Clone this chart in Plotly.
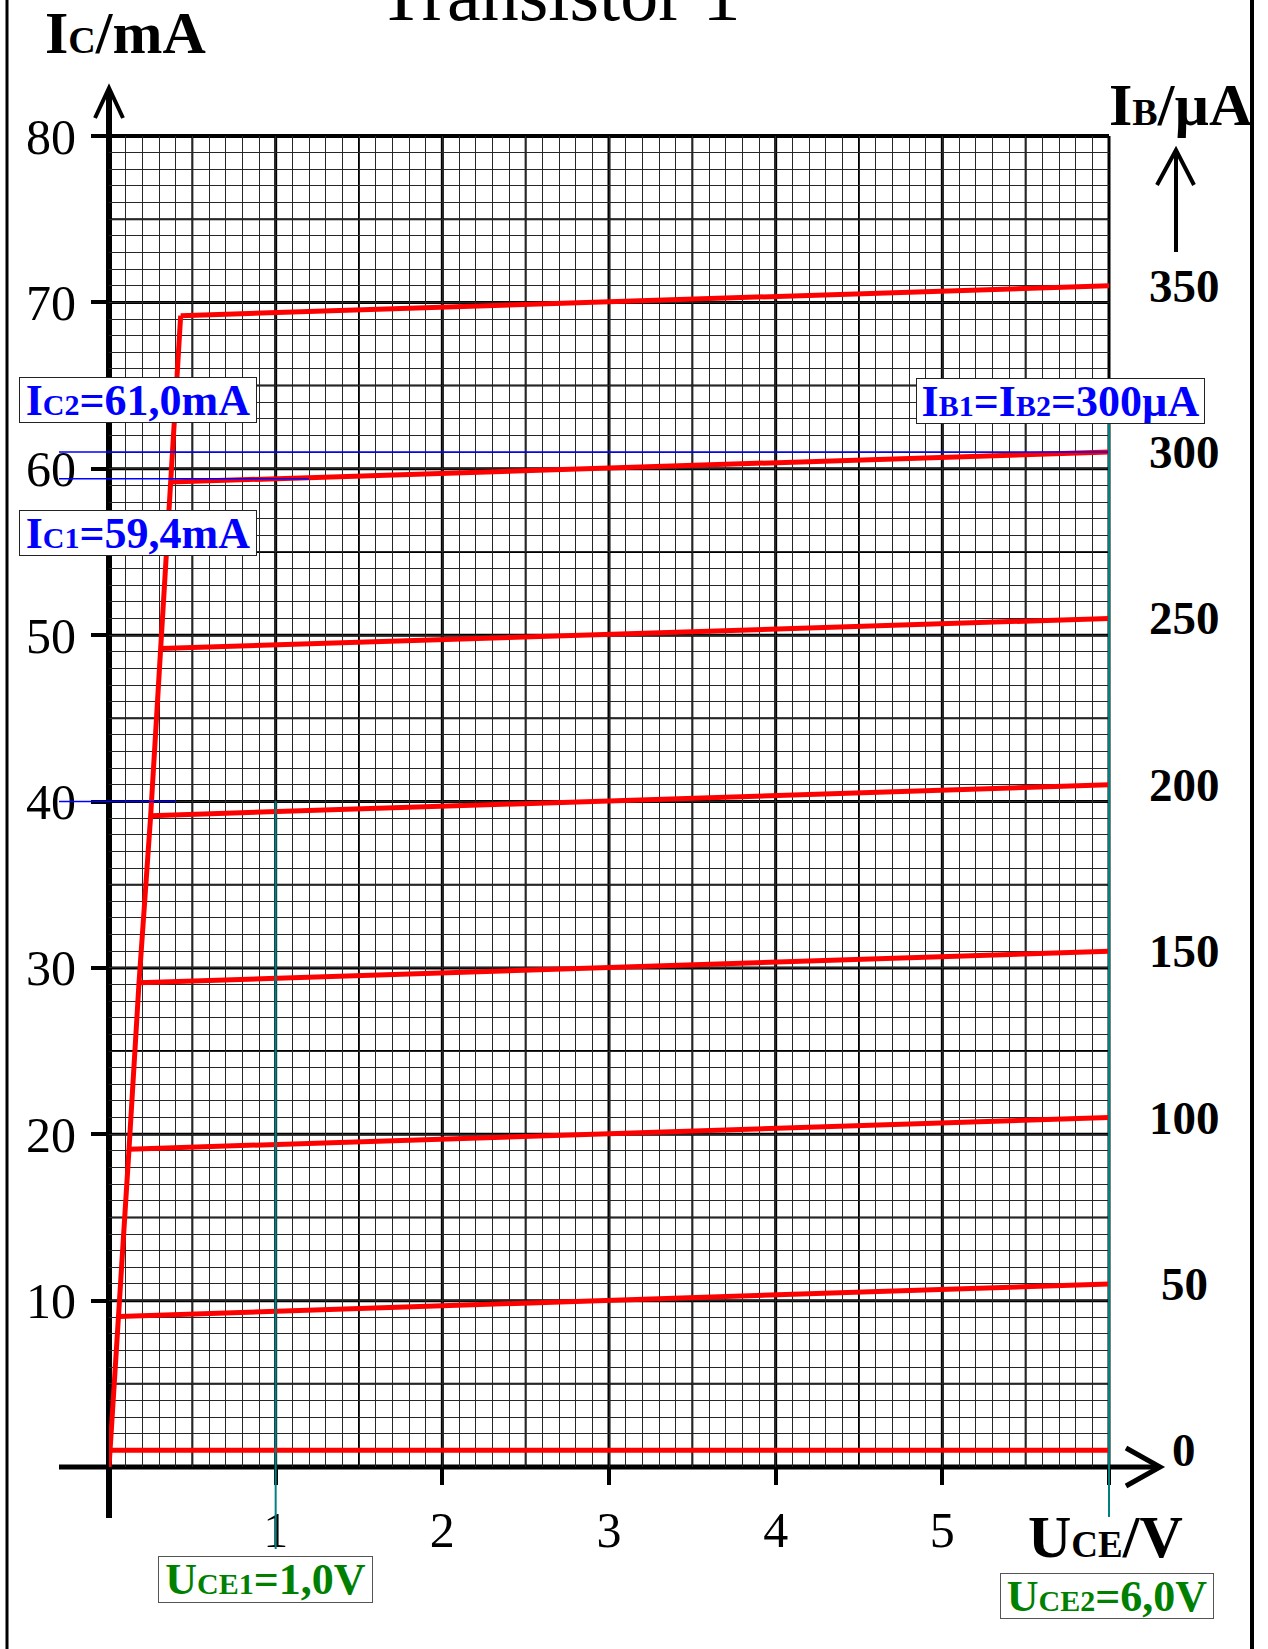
import numpy as np
import plotly.graph_objects as go

# ---------------- data ----------------
IB_VALUES = [0, 50, 100, 150, 200, 250, 300, 350]            # base current, µA
KNEE_UCE = [0.0, 0.06, 0.12, 0.18, 0.25, 0.31, 0.37, 0.43]   # V, end of saturation
KNEE_IC = [1.0, 9.05, 19.1, 29.1, 39.15, 49.2, 59.2, 69.2]   # mA at knee
END_UCE = [6.0, 6.0, 6.0, 6.0, 6.0, 6.0, 6.0, 6.0]           # V
END_IC = [1.0, 11.0, 21.0, 31.0, 41.0, 51.0, 61.0, 71.0]     # mA at 6 V

X_TICKS = [1, 2, 3, 4, 5, 6]
X_TICKTEXT = ["1", "2", "3", "4", "5", ""]
Y_TICKS = [10, 20, 30, 40, 50, 60, 70, 80]
Y_TICKTEXT = ["10", "20", "30", "40", "50", "60", "70", "80"]

UCE1, UCE2 = 1.0, 6.0
IC1, IC2 = 59.4, 61.0
IC_AUX, UCE_AUX = 40.0, 0.4
UCE_IC1_END = 1.2

X_RANGE = [0, 6]
Y_RANGE = [0, 80]

# ---------------- geometry / style ----------------
FIG_W, FIG_H = 1268, 1649
M_L, M_R, M_T, M_B = 109, 159, 136, 182
PW = FIG_W - M_L - M_R
PH = FIG_H - M_T - M_B
SERIF = "Liberation Serif, Times New Roman, serif"
RED = "#ff0000"
BLUE = "#0000ff"
GREEN = "#008000"
TEAL = "#008080"


def px(p):  # page pixel x -> paper
    return (p - M_L) / PW


def py(p):  # page pixel y -> paper
    return (FIG_H - M_B - p) / PH


def fx(v):
    return (v - X_RANGE[0]) / (X_RANGE[1] - X_RANGE[0])


def fy(v):
    return (v - Y_RANGE[0]) / (Y_RANGE[1] - Y_RANGE[0])


fig = go.Figure()

# steep (saturation) line through the knees
fig.add_trace(go.Scatter(
    x=[0.0] + KNEE_UCE[1:], y=[0.0] + KNEE_IC[1:], mode="lines",
    line=dict(color=RED, width=5), hoverinfo="skip"))
# output characteristics
for ib, xv0, yv0, xv1, yv1 in zip(IB_VALUES, KNEE_UCE, KNEE_IC, END_UCE, END_IC):
    fig.add_trace(go.Scatter(
        x=[xv0, xv1], y=[yv0, yv1], mode="lines", name=f"IB={ib}µA",
        line=dict(color=RED, width=5), hoverinfo="skip"))

shapes = []
# medium / major grid lines
for v in np.arange(0.5, X_RANGE[1] + 0.01, 0.5):
    w = 3 if abs(v - round(v)) < 1e-9 else 2
    shapes.append(dict(type="line", xref="paper", yref="paper", x0=fx(v), x1=fx(v),
                       y0=0, y1=1, line=dict(color="black", width=w), layer="below"))
for v in np.arange(5, Y_RANGE[1] + 0.01, 5):
    w = 3 if v % 10 == 0 else 2
    if v == Y_RANGE[1]:
        w = 4
    shapes.append(dict(type="line", xref="paper", yref="paper", x0=0, x1=1,
                       y0=fy(v), y1=fy(v), line=dict(color="black", width=w), layer="below"))

# axes lines with arrows
shapes.append(dict(type="line", xref="paper", yref="paper", x0=0, x1=0,
                   y0=py(1518), y1=py(90), line=dict(color="black", width=6), layer="below"))
shapes.append(dict(type="line", xref="paper", yref="paper", x0=px(59), x1=px(1158),
                   y0=0, y1=0, line=dict(color="black", width=5), layer="below"))
shapes.append(dict(type="path", xref="paper", yref="paper",
                   path=f"M {px(95)} {py(118)} L {px(109)} {py(88)} L {px(123)} {py(118)}",
                   line=dict(color="black", width=4), layer="below"))
shapes.append(dict(type="path", xref="paper", yref="paper",
                   path=f"M {px(1126)} {py(1448)} L {px(1160)} {py(1467)} L {px(1126)} {py(1486)}",
                   line=dict(color="black", width=5), layer="below"))
# right IB arrow
shapes.append(dict(type="line", xref="paper", yref="paper", x0=px(1176), x1=px(1176),
                   y0=py(252), y1=py(152), line=dict(color="black", width=4), layer="below"))
shapes.append(dict(type="path", xref="paper", yref="paper",
                   path=f"M {px(1157)} {py(185)} L {px(1176)} {py(150)} L {px(1194)} {py(185)}",
                   line=dict(color="black", width=4), layer="below"))
# frame lines
shapes.append(dict(type="line", xref="paper", yref="paper", x0=px(7), x1=px(7),
                   y0=py(-5), y1=py(FIG_H + 5), line=dict(color="black", width=3), layer="below"))
shapes.append(dict(type="line", xref="paper", yref="paper", x0=px(1252), x1=px(1252),
                   y0=py(-5), y1=py(FIG_H + 5), line=dict(color="black", width=4), layer="below"))

# blue reading lines
for ic, xend in [(IC2, fx(X_RANGE[1])), (IC1, fx(UCE_IC1_END)), (IC_AUX, fx(UCE_AUX))]:
    shapes.append(dict(type="line", xref="paper", yref="y", x0=px(59), x1=xend,
                       y0=ic, y1=ic, line=dict(color=BLUE, width=1.5), layer="above"))
# teal reading lines
shapes.append(dict(type="line", xref="paper", yref="paper", x0=fx(UCE1), x1=fx(UCE1),
                   y0=py(1549), y1=fy(IC_AUX), line=dict(color=TEAL, width=2), layer="above"))
shapes.append(dict(type="line", xref="paper", yref="paper", x0=fx(UCE2), x1=fx(UCE2),
                   y0=py(1517), y1=py(420), line=dict(color=TEAL, width=2), layer="above"))

annotations = []


def ann(text, xpix, ypix, size, color="black", bold=True, xanchor="center", **kw):
    annotations.append(dict(
        text=text, xref="paper", yref="paper", x=px(xpix), y=py(ypix),
        xanchor=xanchor, yanchor="middle", showarrow=False,
        font=dict(family=SERIF, size=size, color=color, weight="bold" if bold else "normal"),
        **kw))


def small(t, s):
    return f"<span style='font-size:{s}px'>{t}</span>"


ann("Transistor 1", 559, -6, 76, bold=False)
ann("I" + small("C", 38) + "/mA", 125, 33, 60)
ann("I" + small("B", 38) + "/µA", 1107, 105, 60, xanchor="left")
ann("U" + small("CE", 37) + "/V", 1105, 1537, 60)

# right IB scale labels at curve ends
for ib, yv in zip(IB_VALUES, END_IC):
    annotations.append(dict(
        text=str(ib), xref="paper", yref="y", x=px(1184), y=yv,
        xanchor="center", yanchor="middle", showarrow=False,
        font=dict(family=SERIF, size=47, color="black", weight="bold")))


def box(text, cx, cy, w, h, color, border):
    annotations.append(dict(
        text=text, xref="paper", yref="paper", x=px(cx), y=py(cy),
        xanchor="center", yanchor="middle", showarrow=False,
        width=w - 2, height=h - 2, align="center", valign="middle",
        bgcolor="white", bordercolor=border, borderwidth=1, borderpad=0,
        font=dict(family=SERIF, size=44, color=color, weight="bold")))


box("I" + small("C2", 30) + "=" + f"{IC2:.1f}".replace(".", ",") + "mA",
    138, 400, 238, 46, BLUE, "#222")
box("I" + small("C1", 30) + "=" + f"{IC1:.1f}".replace(".", ",") + "mA",
    138, 533, 238, 46, BLUE, "#222")
box("I" + small("B1", 30) + "=I" + small("B2", 30) + f"={IB_VALUES[6]}µA",
    1060, 401, 289, 46, BLUE, "#222")
annotations_green = [
    ("U" + small("CE1", 30) + "=" + f"{UCE1:.1f}".replace(".", ",") + "V", 265, 1579, 215, 47),
    ("U" + small("CE2", 30) + "=" + f"{UCE2:.1f}".replace(".", ",") + "V", 1107, 1596, 214, 46),
]
for t, cx, cy, w, h in annotations_green:
    box(t, cx, cy, w, h, GREEN, "#555")

fig.update_layout(
    width=FIG_W, height=FIG_H,
    margin=dict(l=M_L, r=M_R, t=M_T, b=M_B, pad=0),
    paper_bgcolor="white", plot_bgcolor="white",
    showlegend=False,
    shapes=shapes, annotations=annotations,
    xaxis=dict(range=X_RANGE, tickmode="array", tickvals=X_TICKS, ticktext=X_TICKTEXT,
               ticks="outside", ticklen=17, tickwidth=4, tickcolor="black",
               ticklabelstandoff=2,
               tickfont=dict(family=SERIF, size=50, color="black"),
               showgrid=False, zeroline=False, showline=False, fixedrange=True,
               minor=dict(tick0=0, dtick=0.1, showgrid=True, gridcolor="#262626", gridwidth=1)),
    yaxis=dict(range=Y_RANGE, tickmode="array", tickvals=Y_TICKS, ticktext=Y_TICKTEXT,
               ticks="outside", ticklen=17, tickwidth=3.5, tickcolor="black",
               ticklabelstandoff=5,
               tickfont=dict(family=SERIF, size=50, color="black"),
               showgrid=False, zeroline=False, showline=False, fixedrange=True,
               minor=dict(tick0=0, dtick=1, showgrid=True, gridcolor="#262626", gridwidth=1)),
)

fig.write_html("out.html", post_script="document.body.style.margin='0';",
               config={"displayModeBar": False})
